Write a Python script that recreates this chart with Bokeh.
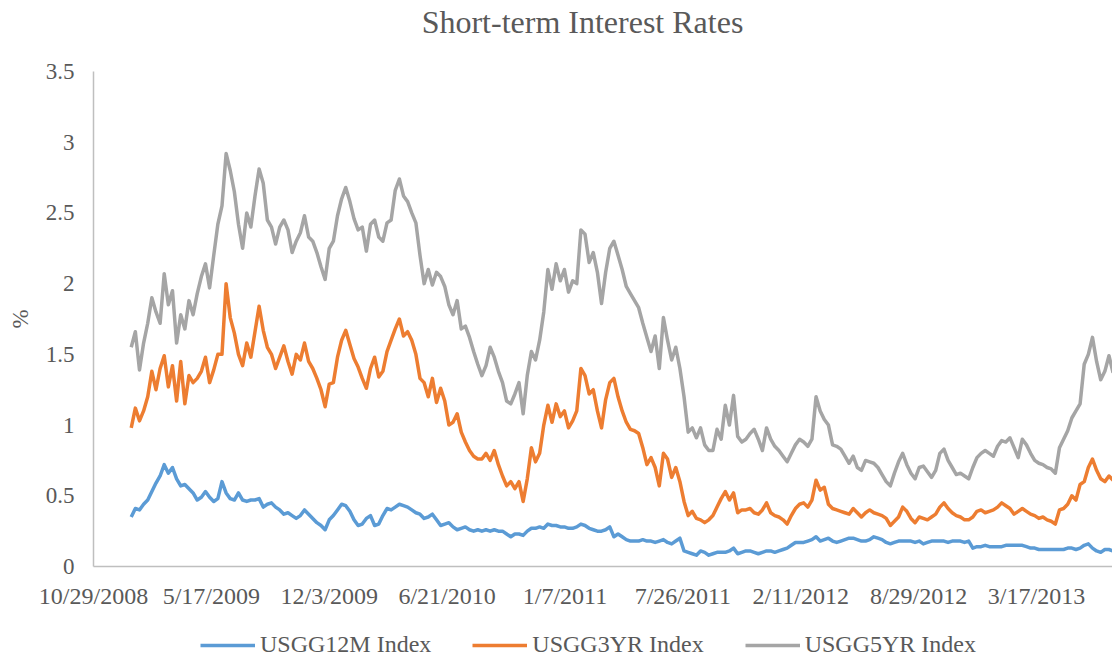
import pandas as pd
from bokeh.plotting import figure
from bokeh.layouts import column
from bokeh.models import Range1d, FixedTicker, Legend, LegendItem, Label
from bokeh.embed import file_html
from bokeh.resources import INLINE

# ---------------- data (weekly readings) ----------------
first_week = "2009-01-01"
n_weeks = 239

usgg12m = [
    0.35, 0.41, 0.40, 0.44, 0.47, 0.53, 0.59, 0.64, 0.72, 0.66,
    0.70, 0.62, 0.57, 0.58, 0.55, 0.52, 0.47, 0.49, 0.53, 0.49,
    0.46, 0.48, 0.60, 0.52, 0.48, 0.47, 0.52, 0.47, 0.46, 0.47,
    0.47, 0.48, 0.42, 0.44, 0.45, 0.42, 0.40, 0.37, 0.38, 0.36,
    0.34, 0.36, 0.40, 0.37, 0.34, 0.31, 0.29, 0.26, 0.33, 0.36,
    0.40, 0.44, 0.43, 0.39, 0.33, 0.29, 0.30, 0.34, 0.36, 0.29,
    0.30, 0.36, 0.41, 0.40, 0.42, 0.44, 0.43, 0.42, 0.40, 0.38,
    0.37, 0.34, 0.35, 0.37, 0.33, 0.29, 0.30, 0.31, 0.28, 0.26,
    0.27, 0.28, 0.26, 0.25, 0.26, 0.25, 0.26, 0.25, 0.26, 0.25,
    0.25, 0.23, 0.21, 0.23, 0.23, 0.22, 0.25, 0.27, 0.27, 0.28,
    0.27, 0.30, 0.29, 0.29, 0.28, 0.28, 0.27, 0.27, 0.28, 0.30,
    0.29, 0.27, 0.26, 0.25, 0.25, 0.26, 0.28, 0.21, 0.23, 0.21,
    0.19, 0.18, 0.18, 0.18, 0.19, 0.18, 0.18, 0.17, 0.18, 0.19,
    0.17, 0.16, 0.18, 0.20, 0.11, 0.10, 0.09, 0.08, 0.11, 0.10,
    0.08, 0.09, 0.10, 0.10, 0.10, 0.11, 0.13, 0.09, 0.10, 0.11,
    0.11, 0.10, 0.09, 0.10, 0.11, 0.11, 0.10, 0.11, 0.12, 0.13,
    0.15, 0.17, 0.17, 0.17, 0.18, 0.19, 0.21, 0.18, 0.19, 0.20,
    0.18, 0.17, 0.18, 0.19, 0.20, 0.20, 0.19, 0.18, 0.18, 0.19,
    0.21, 0.20, 0.19, 0.17, 0.16, 0.17, 0.18, 0.18, 0.18, 0.18,
    0.17, 0.18, 0.16, 0.17, 0.18, 0.18, 0.18, 0.18, 0.17, 0.18,
    0.18, 0.18, 0.17, 0.18, 0.13, 0.14, 0.14, 0.15, 0.14, 0.14,
    0.14, 0.14, 0.15, 0.15, 0.15, 0.15, 0.15, 0.14, 0.13, 0.13,
    0.12, 0.12, 0.12, 0.12, 0.12, 0.12, 0.12, 0.13, 0.13, 0.12,
    0.13, 0.15, 0.16, 0.13, 0.11, 0.10, 0.12, 0.12, 0.11,
]

usgg3yr = [
    0.98, 1.12, 1.03, 1.10, 1.20, 1.38, 1.25, 1.40, 1.49, 1.27,
    1.42, 1.17, 1.45, 1.15, 1.35, 1.30, 1.33, 1.38, 1.48, 1.30,
    1.39, 1.50, 1.50, 2.00, 1.76, 1.65, 1.50, 1.42, 1.58, 1.48,
    1.66, 1.84, 1.67, 1.55, 1.50, 1.40, 1.48, 1.56, 1.45, 1.36,
    1.50, 1.46, 1.58, 1.45, 1.40, 1.33, 1.25, 1.13, 1.29, 1.30,
    1.48, 1.60, 1.67, 1.57, 1.47, 1.41, 1.33, 1.26, 1.40, 1.48,
    1.34, 1.38, 1.52, 1.60, 1.68, 1.75, 1.63, 1.66, 1.60, 1.50,
    1.33, 1.30, 1.20, 1.33, 1.16, 1.26, 1.17, 1.00, 1.02, 1.08,
    0.95, 0.88, 0.82, 0.78, 0.76, 0.76, 0.80, 0.75, 0.82, 0.72,
    0.64, 0.57, 0.60, 0.55, 0.60, 0.46, 0.62, 0.84, 0.74, 0.80,
    1.00, 1.14, 1.02, 1.15, 1.06, 1.10, 0.98, 1.03, 1.10, 1.40,
    1.35, 1.22, 1.25, 1.10, 0.98, 1.18, 1.30, 1.33, 1.20, 1.10,
    1.02, 0.97, 0.96, 0.94, 0.84, 0.72, 0.77, 0.70, 0.57, 0.80,
    0.76, 0.63, 0.70, 0.60, 0.46, 0.36, 0.39, 0.34, 0.33, 0.31,
    0.33, 0.36, 0.42, 0.48, 0.53, 0.47, 0.52, 0.38, 0.40, 0.40,
    0.41, 0.38, 0.37, 0.40, 0.45, 0.38, 0.36, 0.35, 0.33, 0.30,
    0.36, 0.41, 0.44, 0.45, 0.42, 0.47, 0.61, 0.54, 0.56, 0.44,
    0.41, 0.40, 0.39, 0.38, 0.37, 0.41, 0.38, 0.35, 0.38, 0.40,
    0.38, 0.37, 0.36, 0.34, 0.29, 0.32, 0.35, 0.42, 0.39, 0.34,
    0.31, 0.35, 0.34, 0.33, 0.35, 0.37, 0.42, 0.45, 0.41, 0.38,
    0.36, 0.35, 0.33, 0.33, 0.35, 0.39, 0.40, 0.38, 0.39, 0.40,
    0.42, 0.45, 0.43, 0.41, 0.37, 0.39, 0.41, 0.39, 0.37, 0.36,
    0.34, 0.35, 0.33, 0.32, 0.30, 0.40, 0.41, 0.44, 0.50, 0.47,
    0.58, 0.60, 0.70, 0.76, 0.68, 0.62, 0.60, 0.64, 0.61,
]

usgg5yr = [
    1.55, 1.66, 1.39, 1.58, 1.72, 1.90, 1.80, 1.72, 2.07, 1.85,
    1.95, 1.58, 1.78, 1.68, 1.88, 1.78, 1.93, 2.05, 2.14, 1.97,
    2.20, 2.42, 2.55, 2.92, 2.80, 2.65, 2.42, 2.25, 2.50, 2.40,
    2.62, 2.81, 2.71, 2.45, 2.40, 2.28, 2.40, 2.45, 2.38, 2.22,
    2.30, 2.36, 2.48, 2.33, 2.30, 2.22, 2.12, 2.03, 2.25, 2.30,
    2.48, 2.60, 2.68, 2.58, 2.46, 2.38, 2.40, 2.23, 2.42, 2.45,
    2.33, 2.30, 2.43, 2.45, 2.66, 2.74, 2.62, 2.58, 2.50, 2.43,
    2.20, 2.00, 2.10, 1.99, 2.08, 2.05, 1.98, 1.85, 1.78, 1.88,
    1.68, 1.70, 1.62, 1.52, 1.43, 1.35, 1.42, 1.55, 1.48, 1.38,
    1.30, 1.17, 1.15, 1.22, 1.30, 1.08, 1.35, 1.52, 1.46, 1.60,
    1.80, 2.10, 1.96, 2.14, 2.02, 2.10, 1.94, 2.02, 2.00, 2.38,
    2.35, 2.15, 2.22, 2.08, 1.86, 2.08, 2.25, 2.30, 2.20, 2.10,
    1.98, 1.93, 1.88, 1.83, 1.72, 1.62, 1.52, 1.63, 1.40, 1.76,
    1.60, 1.46, 1.55, 1.40, 1.20, 0.95, 0.98, 0.91, 0.98, 0.86,
    0.82, 0.82, 0.97, 0.90, 1.14, 1.00, 1.21, 0.92, 0.88, 0.90,
    0.94, 0.97, 0.90, 0.82, 0.98, 0.90, 0.85, 0.82, 0.78, 0.74,
    0.80, 0.86, 0.90, 0.88, 0.85, 0.90, 1.20, 1.10, 1.04, 1.00,
    0.86, 0.85, 0.83, 0.78, 0.73, 0.78, 0.70, 0.68, 0.75, 0.74,
    0.73, 0.70, 0.65, 0.60, 0.57, 0.66, 0.74, 0.80, 0.72, 0.66,
    0.62, 0.70, 0.71, 0.67, 0.63, 0.68, 0.80, 0.83, 0.75, 0.70,
    0.65, 0.66, 0.64, 0.62, 0.70, 0.77, 0.80, 0.82, 0.80, 0.78,
    0.85, 0.89, 0.88, 0.91, 0.84, 0.77, 0.90, 0.86, 0.80, 0.75,
    0.73, 0.72, 0.70, 0.69, 0.66, 0.84, 0.90, 0.96, 1.05, 1.10,
    1.15, 1.43, 1.50, 1.62, 1.45, 1.32, 1.38, 1.49, 1.37,
]

series_names = ["USGG12M Index", "USGG3YR Index", "USGG5YR Index"]
series_colors = ["#5B9BD5", "#ED7D31", "#A5A5A5"]

x_tick_labels = ["10/29/2008", "5/17/2009", "12/3/2009", "6/21/2010", "1/7/2011",
                 "7/26/2011", "2/11/2012", "8/29/2012", "3/17/2013"]
y_ticks = [0, 0.5, 1, 1.5, 2, 2.5, 3, 3.5]
y_tick_labels = ["0", "0.5", "1", "1.5", "2", "2.5", "3", "3.5"]

x_start = "2008-10-29"
x_end = "2013-07-24"

title_text = "Short-term Interest Rates"
y_label = "%"

# ---------------- styling ----------------
FONT = "Liberation Serif"
TXT = "#595959"
W = 1112


def bare(fig):
    fig.outline_line_color = None
    fig.background_fill_color = "white"
    fig.border_fill_color = "white"
    fig.xgrid.visible = False
    fig.ygrid.visible = False


dates = pd.date_range(first_week, periods=n_weeks, freq="7D")
series = [usgg12m, usgg3yr, usgg5yr]

# ---------------- title strip (frame aligned with the chart frame) ----------------
head = figure(width=W, height=50, x_range=Range1d(0, 1), y_range=Range1d(0, 1),
              x_axis_location=None, y_axis_location=None,
              output_backend="svg", toolbar_location=None,
              min_border=0)
bare(head)
head.add_layout(Label(x=489, y=29, x_units="screen", y_units="screen", text=title_text,
                      text_font=FONT, text_font_size="32px", text_color=TXT,
                      text_align="center", text_baseline="middle"))

# ---------------- main chart ----------------
p = figure(width=W, height=576, x_axis_type="datetime",
           x_range=Range1d(pd.Timestamp(x_start), pd.Timestamp(x_end)),
           y_range=Range1d(0, 3.5),
           output_backend="svg", toolbar_location=None,
           min_border_left=93, min_border_right=0,
           min_border_top=21, min_border_bottom=60)
bare(p)

for vals, col in zip(series, series_colors):
    p.line(dates, vals, line_color=col, line_width=3.5, line_join="round")

tick_ms = [pd.Timestamp(pd.to_datetime(t, format="%m/%d/%Y")).value / 1e6 for t in x_tick_labels]
p.xaxis.ticker = FixedTicker(ticks=tick_ms)
p.xaxis.major_label_overrides = {ms: lab for ms, lab in zip(tick_ms, x_tick_labels)}
p.yaxis.ticker = FixedTicker(ticks=y_ticks)
p.yaxis.major_label_overrides = {t: lab for t, lab in zip(y_ticks, y_tick_labels)}
for ax in (p.xaxis, p.yaxis):
    ax.major_tick_in = 0
    ax.major_tick_out = 0
    ax.minor_tick_in = 0
    ax.minor_tick_out = 0
    ax.axis_line_color = "#BFBFBF"
    ax.axis_line_width = 1.5
    ax.major_label_text_font = FONT
    ax.major_label_text_color = TXT
p.xaxis.major_label_text_font_size = "24px"
p.xaxis.major_label_standoff = 16
p.yaxis.major_label_text_font_size = "23px"
p.yaxis.major_label_standoff = 19
p.yaxis.axis_label = y_label
p.yaxis.axis_label_text_font = FONT
p.yaxis.axis_label_text_font_size = "23px"
p.yaxis.axis_label_text_font_style = "normal"
p.yaxis.axis_label_text_color = TXT
p.yaxis.axis_label_standoff = 10

# ---------------- legend strip (series drawn off-range; only the key shows) ----------------
leg = figure(width=W, height=35, x_axis_type="datetime",
             x_range=Range1d(pd.Timestamp(x_start), pd.Timestamp(x_end)),
             y_range=Range1d(10, 11),
             x_axis_location=None, y_axis_location=None,
             output_backend="svg", toolbar_location=None,
             min_border=0)
bare(leg)
keys = [leg.line(dates, vals, line_color=c, line_width=3.5) for vals, c in zip(series, series_colors)]
legend = Legend(items=[LegendItem(label=n, renderers=[r]) for n, r in zip(series_names, keys)],
                orientation="horizontal", location=(107, 3),
                label_text_font=FONT, label_text_font_size="24px", label_text_color=TXT,
                glyph_width=55, glyph_height=20, label_standoff=5, spacing=41,
                padding=0, margin=0, border_line_color=None, background_fill_alpha=0)
leg.add_layout(legend, "center")

layout = column(head, p, leg, spacing=0)
open("out.html", "w").write(file_html(layout, INLINE))
